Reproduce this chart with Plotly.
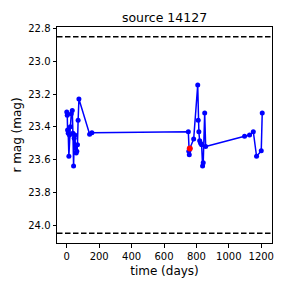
import plotly.graph_objects as go

time_days = [0, 3, 5, 9, 13, 17, 22, 28, 34, 38, 42, 46, 50, 54, 58, 62, 66, 70, 75, 141, 155,
             750, 753, 756, 759, 783, 808, 811, 815, 820, 826, 832, 838, 842, 851, 857,
             1097, 1128, 1151, 1171, 1200, 1206]
r_mag = [23.31, 23.33, 23.42, 23.44, 23.58, 23.45, 23.40, 23.32, 23.30, 23.44, 23.64, 23.47,
         23.45, 23.53, 23.56, 23.55, 23.51, 23.36, 23.23, 23.445, 23.437,
         23.43, 23.55, 23.57, 23.533, 23.475, 23.145, 23.36, 23.43, 23.485, 23.50, 23.51,
         23.64, 23.62, 23.315, 23.52,
         23.457, 23.45, 23.43, 23.58, 23.547, 23.315]
highlight_time = [759]
highlight_mag = [23.533]
limit_mags = [22.85, 24.05]
y_ticks = [22.8, 23.0, 23.2, 23.4, 23.6, 23.8, 24.0]
x_ticks = [0, 200, 400, 600, 800, 1000, 1200]

xmin, xmax = min(time_days), max(time_days)
xpad = 0.05 * (xmax - xmin)
ymin, ymax = min(limit_mags), max(limit_mags)
ypad = 0.05 * (ymax - ymin)

fig = go.Figure()
for m in limit_mags:
    fig.add_trace(go.Scatter(x=[xmin - xpad, xmax + xpad], y=[m, m], mode="lines",
                             line=dict(color="black", width=1.5, dash="5.5px,2.5px"),
                             showlegend=False, hoverinfo="skip"))
fig.add_trace(go.Scatter(x=time_days, y=r_mag, mode="lines+markers",
                         line=dict(color="blue", width=1.5),
                         marker=dict(color="blue", size=5),
                         showlegend=False))
fig.add_trace(go.Scatter(x=highlight_time, y=highlight_mag, mode="markers",
                         marker=dict(color="red", size=6), showlegend=False))

axis_common = dict(showline=True, linecolor="black", linewidth=1, mirror=True,
                   ticks="outside", ticklen=3.5, tickcolor="black", showgrid=False,
                   zeroline=False, tickfont=dict(family="DejaVu Sans", size=10, color="black"))
fig.update_xaxes(range=[xmin - xpad, xmax + xpad], tickvals=x_ticks,
                 title=dict(text="time (days)", font=dict(family="DejaVu Sans", size=12, color="black"),
                            standoff=6),
                 **axis_common)
fig.update_yaxes(range=[ymax + ypad, ymin - ypad], tickvals=y_ticks, tickformat=".1f",
                 title=dict(text="r mag (mag)", font=dict(family="DejaVu Sans", size=12, color="black"),
                            standoff=4),
                 **axis_common)
fig.update_layout(width=288, height=288, plot_bgcolor="white", paper_bgcolor="white",
                  margin=dict(l=57, r=16, t=27, b=45),
                  title=dict(text="source 14127", x=0.5, xref="paper", xanchor="center",
                             y=0.94, yanchor="middle",
                             font=dict(family="DejaVu Sans", size=12.5, color="black")))
fig.write_html("out.html", config={"displayModeBar": False},
               post_script="document.body.style.margin='0';")
